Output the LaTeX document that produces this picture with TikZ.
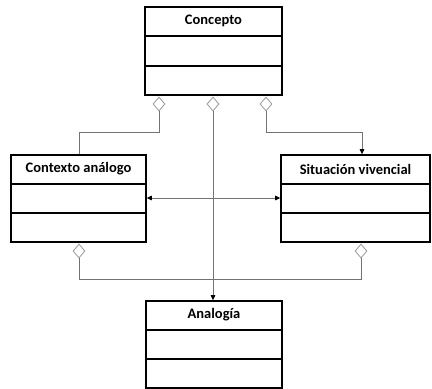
\documentclass[tikz,border=0pt]{standalone}
\usepackage{fontspec}
\setmainfont{Carlito}
\usetikzlibrary{shapes.geometric,arrows.meta,calc}
\begin{document}
\begin{tikzpicture}[x=1pt,y=-1pt,
 umlbox/.style={draw=black,line width=1.6pt,fill=white,inner sep=0pt},
 divider/.style={draw=black,line width=1.6pt},
 title/.style={font=\fontsize{14.5}{17}\selectfont\bfseries,inner sep=0pt},
 agg/.style={diamond,draw=gray!80,line width=0.8pt,fill=white,minimum width=12pt,minimum height=14pt,inner sep=0pt},
 conn/.style={draw=gray!90!black,line width=0.9pt},
 tip/.style={-{Triangle[black,length=5pt,width=4.5pt]}},
 dtip/.style={{Triangle[black,length=5pt,width=4.5pt]}-{Triangle[black,length=5pt,width=4.5pt]}}]
\useasboundingbox (0,0) rectangle (432,389);
\fill[white] (0,0) rectangle (432,389);
% boxes
\node[umlbox,minimum width=137pt,minimum height=88pt] (concepto) at (213.5,51) {};
\node[umlbox,minimum width=135pt,minimum height=87pt] (contexto) at (78.5,198.5) {};
\node[umlbox,minimum width=149pt,minimum height=87pt] (situacion) at (355.5,198.5) {};
\node[umlbox,minimum width=136pt,minimum height=87pt] (analogia) at (214,344.5) {};
% dividers
\foreach \b in {concepto,contexto,situacion,analogia}{
  \draw[divider] ($(\b.north west)!1/3!(\b.south west)$) -- ($(\b.north east)!1/3!(\b.south east)$);
  \draw[divider] ($(\b.north west)!2/3!(\b.south west)$) -- ($(\b.north east)!2/3!(\b.south east)$);
}
% titles
\node[title] (concepto-t) at ($(concepto.north)!1/6!(concepto.south)$) {Concepto};
\node[title] (contexto-t) at ($(contexto.north)!1/6!(contexto.south)$) {Contexto análogo};
\node[title] (situacion-t) at ($(situacion.north)!1/6!(situacion.south)$) {Situación vivencial};
\node[title] (analogia-t) at ($(analogia.north)!1/6!(analogia.south)$) {Analogía};
% aggregation diamonds
\node[agg] (d1) at (159,104) {};
\node[agg] (d2) at (213,104) {};
\node[agg] (d3) at (266,104) {};
\node[agg] (d4) at (79,251) {};
\node[agg] (d5) at (361,251) {};
% connectors
\coordinate (jl) at (79,132);
\coordinate (jr) at (362,132);
\coordinate (jb) at (213,279);
\draw[conn] (d1.south) |- (jl) -- (contexto.north -| jl);
\draw[conn,tip] (d3.south) |- (jr) -- (situacion.north -| jr);
\draw[conn,tip] (d2.south) -- (analogia.north -| d2.south);
\draw[conn] (d4.south) |- (jb);
\draw[conn] (d5.south) |- (jb);
\coordinate (hm) at (213,198);
\draw[conn,dtip] (contexto.east |- hm) -- (situacion.west |- hm);
\end{tikzpicture}
\end{document}
